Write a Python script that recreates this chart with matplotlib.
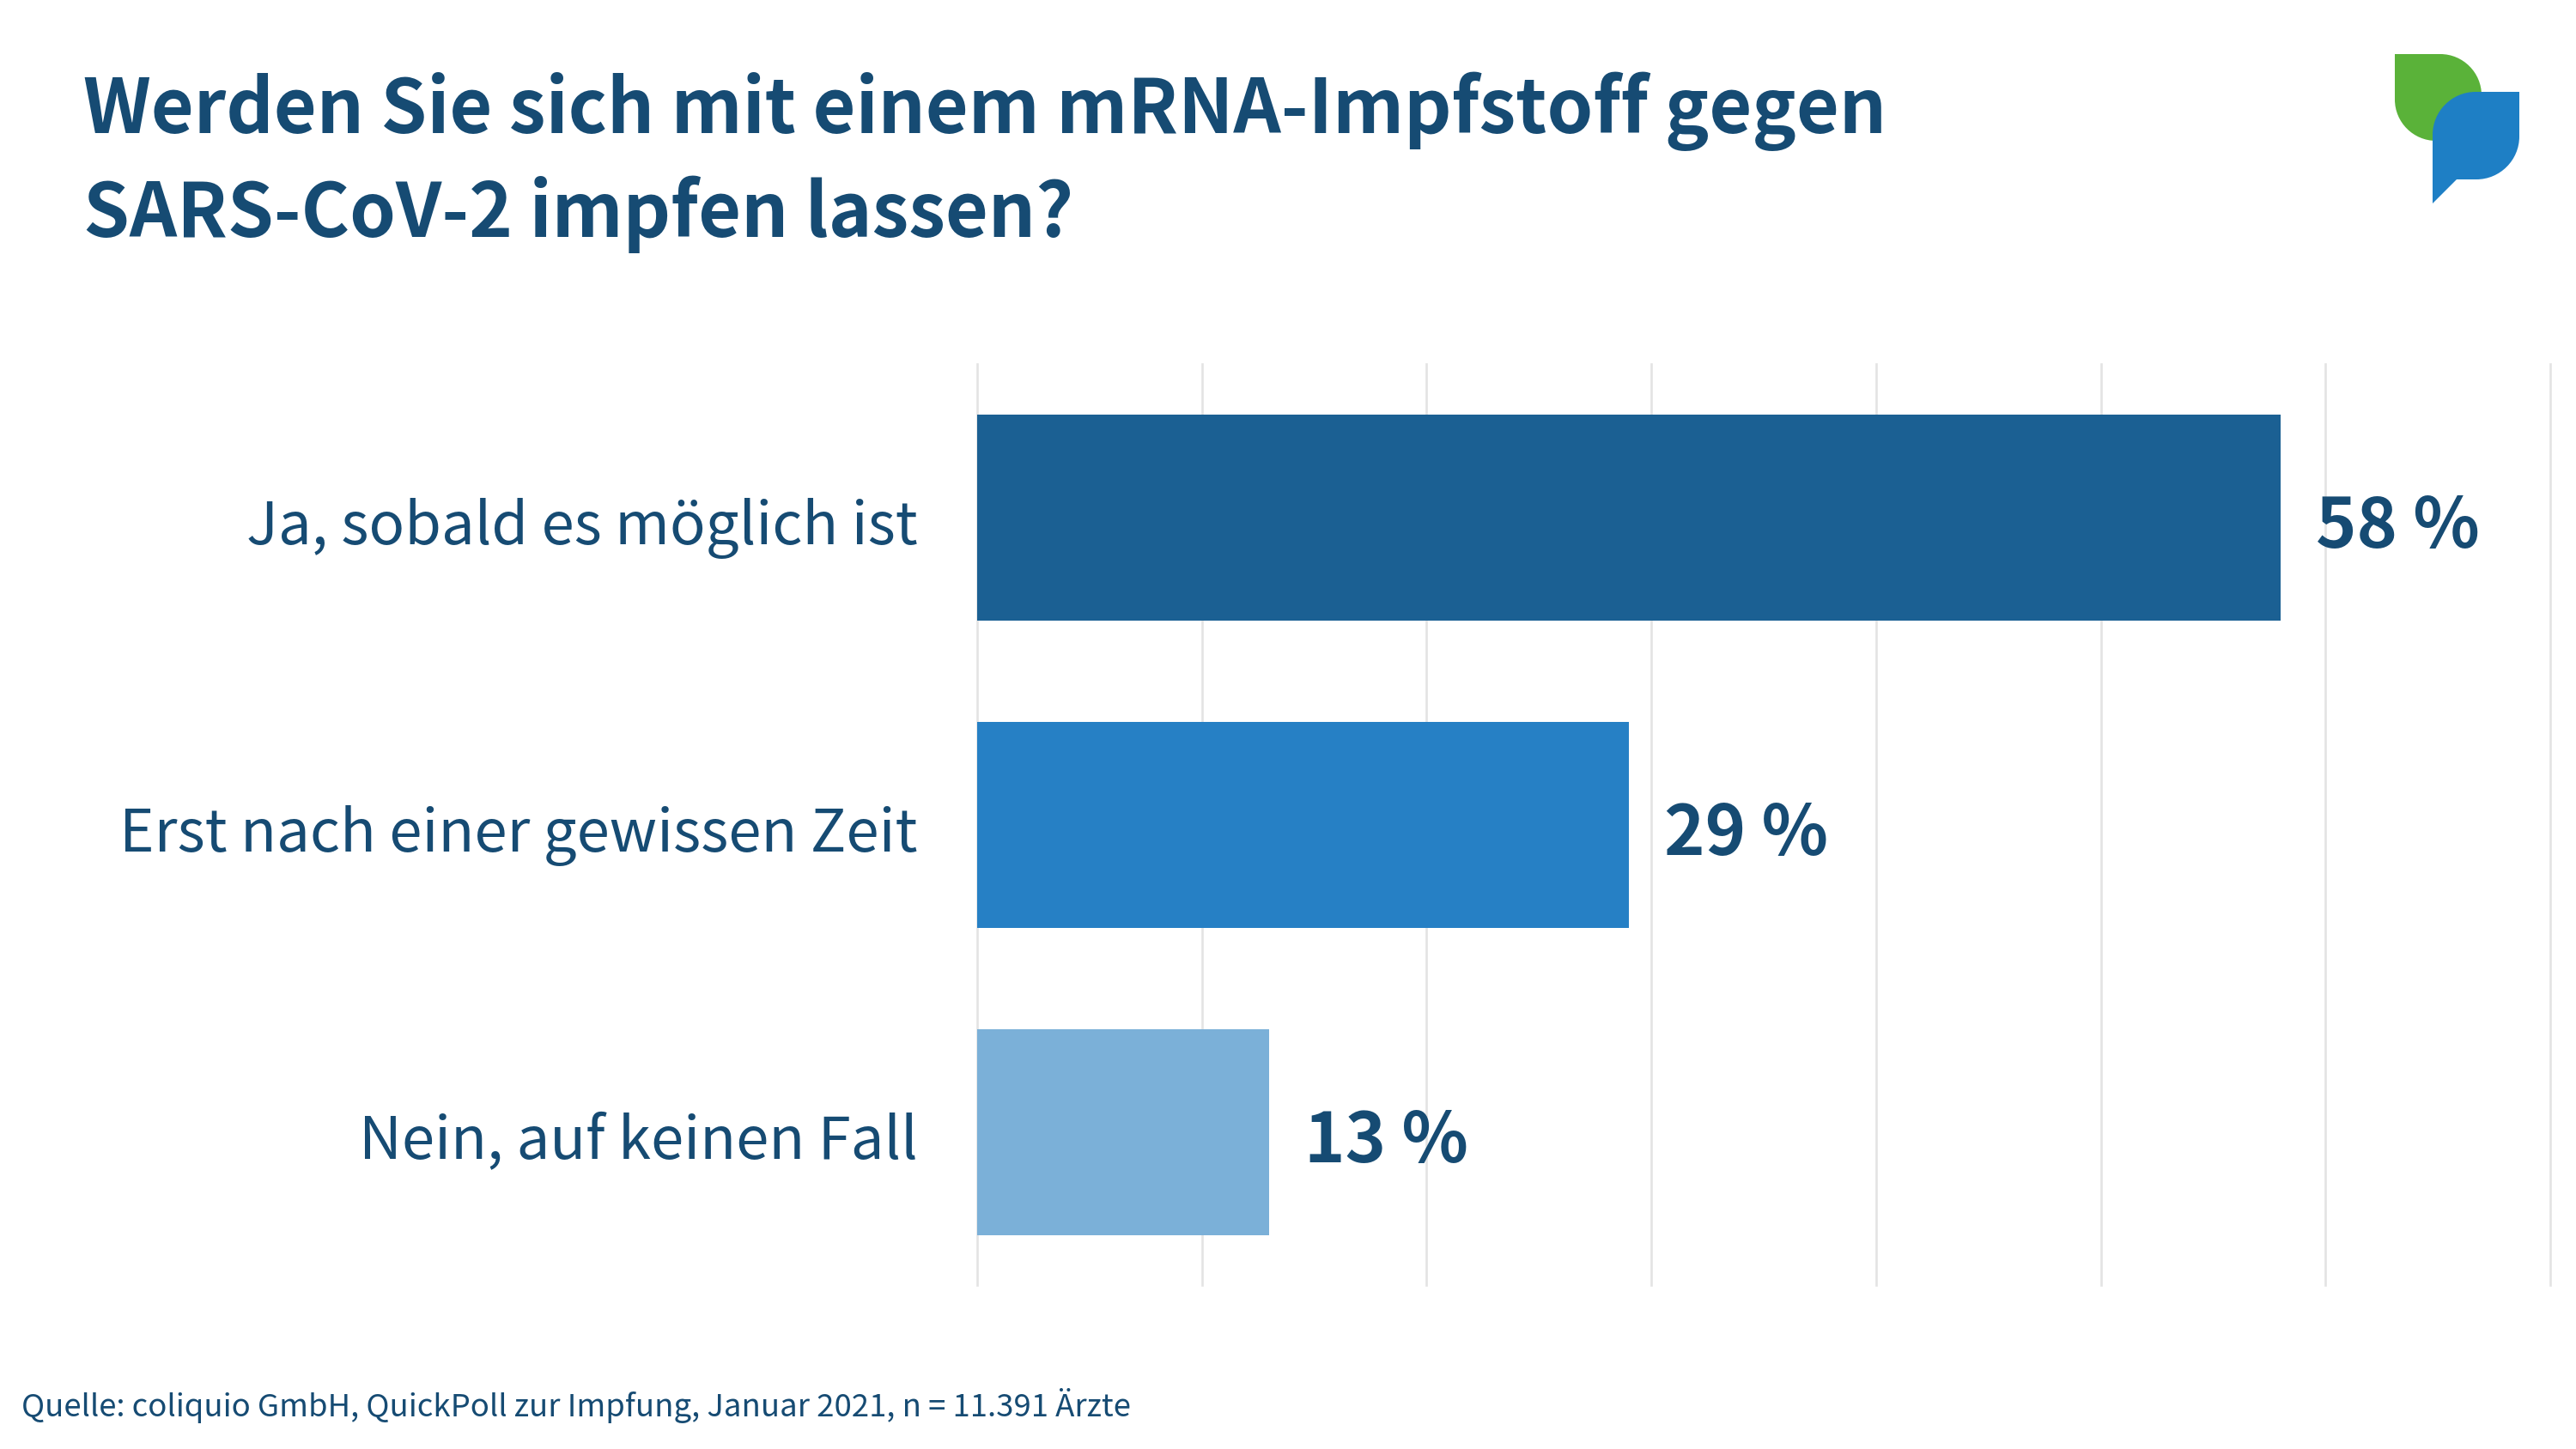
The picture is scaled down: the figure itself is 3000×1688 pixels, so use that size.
import matplotlib
matplotlib.use("Agg")
import matplotlib.pyplot as plt
from matplotlib.path import Path
from matplotlib.patches import PathPatch
from matplotlib.transforms import Affine2D, ScaledTranslation

categories = ["Ja, sobald es möglich ist", "Erst nach einer gewissen Zeit", "Nein, auf keinen Fall"]
values = [58, 29, 13]
value_labels = ["58 %", "29 %", "13 %"]
bar_colors = ["#1B6093", "#2680C5", "#7BB0D8"]
grid_ticks = [0, 10, 20, 30, 40, 50, 60, 70]
title_lines = ["Werden Sie sich mit einem mRNA-Impfstoff gegen", "SARS-CoV-2 impfen lassen?"]
source = "Quelle: coliquio GmbH, QuickPoll zur Impfung, Januar 2021, n = 11.391 Ärzte"

W, H = 3000, 1688
TEXT = "#164B73"
FONT = ["Noto Sans CJK SC", "DejaVu Sans"]
plt.rcParams["font.family"] = FONT

fig = plt.figure(figsize=(W / 100, H / 100), dpi=100, facecolor="white")
L, R, T, B = 1138, 2970, 424, 1497
ax = fig.add_axes([L / W, 1 - B / H, (R - L) / W, (B - T) / H])
ax.set_xlim(0, 70)
ax.set_ylim((B - 603) / 358, (T - 603) / 358)
for s in ax.spines.values():
    s.set_visible(False)
ax.patch.set_alpha(0)
ax.set_xticks(grid_ticks)
ax.tick_params(axis="x", length=0, labelbottom=False)
ax.tick_params(axis="y", length=0, pad=50, labelsize=49.6, labelcolor=TEXT)
ax.grid(axis="x", color="#E3E3E3", lw=1.9, zorder=0, clip_on=False)
ax.set_axisbelow(True)
ypos = list(range(len(categories)))
ax.barh(ypos, values, height=0.668, color=bar_colors, zorder=2)
ax.set_yticks(ypos, categories)
shift = ScaledTranslation(0, -4 / 100, fig.dpi_scale_trans)
for lbl in ax.get_yticklabels():
    lbl.set_transform(lbl.get_transform() + shift)
for y, v, lab in zip(ypos, values, value_labels):
    ax.annotate(lab, (v, y), xytext=(41, -3), textcoords="offset pixels", va="center_baseline",
                ha="left", fontsize=58, fontweight="bold", color=TEXT)

fig.text(97 / W, 1 - 119 / H, title_lines[0], fontsize=62, fontweight="bold", color=TEXT, va="center_baseline")
fig.text(97 / W, 1 - 240 / H, title_lines[1], fontsize=62, fontweight="bold", color=TEXT, va="center_baseline")
fig.text(25 / W, 1 - 1633 / H, source, fontsize=26.3, color=TEXT, va="center_baseline")

# logo, in pixel coordinates (y downward)
px = Affine2D().scale(1, -1).translate(0, H)
C = Path.CURVE4; LT = Path.LINETO; M = Path.MOVETO
k = 0.55
# green leaf
l, t, r, b, rr = 2789, 63, 2890, 164, 48
gv = [(l, t), (r - rr, t), (r - rr + k * rr, t), (r, t + rr - k * rr), (r, t + rr), (r, b), (l + rr, b),
      (l + rr - k * rr, b), (l, b - rr + k * rr), (l, b - rr), (l, t)]
gc = [M, LT, C, C, C, LT, LT, C, C, C, LT]
fig.add_artist(PathPatch(Path(gv, gc), fc="#5AB239", ec="none", transform=px))
# blue speech bubble
l, t, r, b, rr = 2833, 107, 2934, 209, 50
bv = [(r, t), (r, b - rr), (r, b - rr + k * rr), (r - rr + k * rr, b), (r - rr, b), (2861, b), (l, 237), (l, t + rr),
      (l, t + rr - k * rr), (l + rr - k * rr, t), (l + rr, t), (r, t)]
bc = [M, LT, C, C, C, LT, LT, LT, C, C, C, LT]
fig.add_artist(PathPatch(Path(bv, bc), fc="#1E7FC5", ec="none", transform=px))

fig.savefig("out.png", dpi=100, facecolor="white")
